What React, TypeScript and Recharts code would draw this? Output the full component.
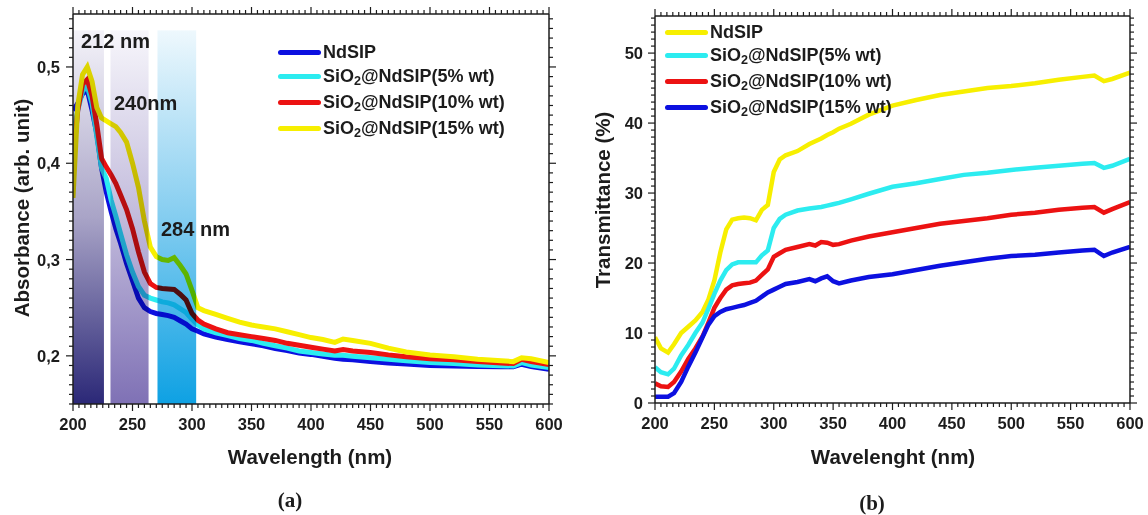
import React from "react";
import { LineChart, Line, XAxis, YAxis, ReferenceArea } from "recharts";

// ---- (a) absorbance ----
const absWavelength = [
  200, 204, 208, 212, 216, 220, 224, 228, 232, 236, 240, 245, 250, 255, 260, 265, 270, 275, 280, 285,
  290, 295, 300, 305, 310, 320, 330, 340, 350, 360, 370, 380, 390, 400, 410, 420, 427, 435, 450, 465,
  480, 500, 520, 540, 560, 570, 577, 585, 600,
];
const absNdSIP = [
  0.455, 0.462, 0.472, 0.476, 0.455, 0.431, 0.395, 0.37, 0.35, 0.332, 0.317, 0.296, 0.278, 0.26, 0.25,
  0.246, 0.244, 0.243, 0.2418, 0.24, 0.2365, 0.233, 0.228, 0.2255, 0.2228, 0.2195, 0.217, 0.2145, 0.2125,
  0.2105, 0.2075, 0.2055, 0.203, 0.2015, 0.1995, 0.1975, 0.1965, 0.196, 0.194, 0.1925, 0.1915, 0.19,
  0.1895, 0.189, 0.1887, 0.1886, 0.1913, 0.189, 0.186,
];
const absSi5 = [
  0.43, 0.455, 0.475, 0.48, 0.462, 0.428, 0.395, 0.384, 0.362, 0.345, 0.327, 0.305, 0.287, 0.272, 0.263,
  0.26, 0.258, 0.256, 0.255, 0.253, 0.249, 0.245, 0.238, 0.232, 0.228, 0.224, 0.221, 0.218, 0.216, 0.213,
  0.2105, 0.208, 0.205, 0.2035, 0.202, 0.2005, 0.2005, 0.1995, 0.198, 0.1965, 0.195, 0.193, 0.192, 0.1905,
  0.1898, 0.1895, 0.193, 0.1905, 0.188,
];
const absSi10 = [
  0.403, 0.455, 0.482, 0.487, 0.47, 0.44, 0.405, 0.396, 0.388, 0.379, 0.367, 0.352, 0.332, 0.308, 0.287,
  0.275, 0.271, 0.27, 0.2695, 0.269, 0.264, 0.258, 0.244, 0.237, 0.233, 0.228, 0.224, 0.222, 0.22, 0.218,
  0.216, 0.213, 0.211, 0.209, 0.207, 0.205, 0.2065, 0.205, 0.2035, 0.201, 0.199, 0.197, 0.196, 0.194,
  0.1925, 0.192, 0.1965, 0.194, 0.191,
];
const absSi15 = [
  0.364, 0.46, 0.492, 0.5, 0.485, 0.458, 0.447, 0.444, 0.441, 0.438, 0.432, 0.422, 0.4, 0.375, 0.34,
  0.313, 0.303, 0.3, 0.299, 0.302, 0.294, 0.285, 0.268, 0.25, 0.247, 0.243, 0.239, 0.235, 0.232, 0.23,
  0.228, 0.225, 0.222, 0.219, 0.217, 0.214, 0.2175, 0.216, 0.213, 0.208, 0.204, 0.201, 0.199, 0.1965,
  0.195, 0.194, 0.198, 0.197, 0.193,
];
const absBands = [
  { id: "band1", x1: 200, x2: 226 },
  { id: "band2", x1: 231.5, x2: 263.5 },
  { id: "band3", x1: 271, x2: 303.5 },
];

// ---- (b) transmittance ----
const trWavelength = [
  200, 205, 211, 216, 222, 228, 234, 240, 245, 250, 255, 260, 265, 270, 275, 280, 285, 290, 295, 300,
  305, 310, 320, 330, 335, 340, 345, 350, 355, 365, 380, 400, 420, 440, 460, 480, 500, 520, 540, 560,
  570, 578, 585, 600,
];
const trNdSIP = [
  9.4, 7.8, 7.2, 8.4, 10.0, 10.9, 11.8, 13.0, 14.8, 17.5, 21.5, 24.8, 26.2, 26.4, 26.5, 26.4, 26.1, 27.6,
  28.3, 33.0, 34.8, 35.4, 36.0, 37.0, 37.4, 37.8, 38.3, 38.7, 39.2, 39.9, 41.2, 42.5, 43.3, 44.0, 44.5,
  45.0, 45.3, 45.7, 46.2, 46.6, 46.8, 46.0, 46.3, 47.2,
];
const trSi5 = [
  5.1, 4.4, 4.1, 4.9, 6.8, 8.3, 10.0, 11.5, 13.5, 15.6, 17.5, 19.0, 19.8, 20.1, 20.1, 20.1, 20.1, 21.1,
  21.8, 25.0, 26.3, 26.9, 27.5, 27.8, 27.9, 28.0, 28.2, 28.4, 28.6, 29.1, 29.9, 30.9, 31.4, 32.0, 32.6,
  32.9, 33.3, 33.6, 33.9, 34.2, 34.3, 33.6, 33.9, 34.9,
];
const trSi10 = [
  2.8, 2.4, 2.3, 3.0, 4.5, 6.3, 7.8, 9.5, 11.5, 13.6, 15.0, 16.2, 16.8, 17.0, 17.1, 17.2, 17.5, 18.3,
  19.1, 20.9, 21.4, 21.9, 22.3, 22.7, 22.5, 23.0, 22.9, 22.6, 22.7, 23.2, 23.8, 24.4, 25.0, 25.6, 26.0,
  26.4, 26.9, 27.2, 27.6, 27.9, 28.0, 27.2, 27.7, 28.7,
];
const trSi15 = [
  0.9, 0.9, 0.9, 1.4, 3.0, 5.2, 7.2, 9.4, 11.2, 12.4, 13.0, 13.4, 13.6, 13.8, 14.0, 14.3, 14.6, 15.2,
  15.8, 16.2, 16.6, 17.0, 17.3, 17.7, 17.4, 17.8, 18.1, 17.4, 17.1, 17.5, 18.0, 18.4, 19.0, 19.6, 20.1,
  20.6, 21.0, 21.2, 21.5, 21.8, 21.9, 21.0, 21.5, 22.3,
];

const xTicks = Array.from({ length: 81 }, (_, i) => 200 + i * 5);
const absYTicks = Array.from({ length: 41 }, (_, i) => (15 + i) / 100);
const trYTicks = Array.from({ length: 56 }, (_, i) => i);

const absData = absWavelength.map((w, i) => ({
  w, nd: absNdSIP[i], s5: absSi5[i], s10: absSi10[i], s15: absSi15[i],
}));
const trData = trWavelength.map((w, i) => ({
  w, nd: trNdSIP[i], s5: trSi5[i], s10: trSi10[i], s15: trSi15[i],
}));

const BLUE = "#0c10e0";
const CYAN = "#2cecf0";
const RED = "#ec1212";
const YELLOW = "#f7ef00";
const INK = "#1c1c1c";
const SANS = "'Liberation Sans', Arial, sans-serif";
const SERIF = "'Liberation Serif', 'Times New Roman', serif";
const TICK_FONT = 16.5;

const xTick = (side: "bottom" | "top") => (p: any) => {
  const v = p.payload.value;
  const major = v % 50 === 0;
  const dir = side === "bottom" ? 1 : -1;
  return (
    <g>
      <line x1={p.x} x2={p.x} y1={p.y} y2={p.y + dir * (major ? 7 : 4)} stroke={INK} strokeWidth={1.2} />
      {side === "bottom" && major && (
        <text x={p.x} y={p.y + 26} textAnchor="middle" fontSize={TICK_FONT} fontWeight={700} fill={INK} fontFamily={SANS}>
          {v}
        </text>
      )}
    </g>
  );
};

const yTick =
  (side: "left" | "right", isMajor: (v: number) => boolean, fmt: (v: number) => string, gap: number) =>
  (p: any) => {
    const v = p.payload.value;
    const major = isMajor(v);
    const dir = side === "left" ? -1 : 1;
    return (
      <g>
        <line x1={p.x} x2={p.x + dir * (major ? 7 : 4)} y1={p.y} y2={p.y} stroke={INK} strokeWidth={1.2} />
        {side === "left" && major && (
          <text x={p.x - gap} y={p.y} textAnchor="end" dominantBaseline="central" fontSize={TICK_FONT} fontWeight={700} fill={INK} fontFamily={SANS}>
            {fmt(v)}
          </text>
        )}
      </g>
    );
  };

const absMajor = (v: number) => Math.round(v * 100) % 10 === 0;
const absFmt = (v: number) => v.toFixed(1).replace(".", ",");
const trMajor = (v: number) => v % 10 === 0;
const trFmt = (v: number) => String(v);

const axisLine = { stroke: INK, strokeWidth: 1.5 };

function Sio2({ pct }: { pct?: string }) {
  if (!pct) return <>NdSIP</>;
  return (
    <>
      SiO<sub style={{ fontSize: "0.7em", verticalAlign: "-0.25em", lineHeight: 0 }}>2</sub>@NdSIP({pct}% wt)
    </>
  );
}

function LegendBox({
  left, rows, items,
}: {
  left: number;
  rows: number[];
  items: { color: string; pct?: string }[];
}) {
  return (
    <>
      {items.map((it, i) => (
        <div key={i} style={{ position: "absolute", left, top: rows[i], transform: "translateY(-50%)", display: "flex", alignItems: "center" }}>
          <div style={{ width: 43, height: 5, borderRadius: 3, background: it.color }} />
          <div style={{ marginLeft: 2, fontFamily: SANS, fontWeight: 700, fontSize: 18, color: INK, whiteSpace: "nowrap", lineHeight: 1 }}>
            <Sio2 pct={it.pct} />
          </div>
        </div>
      ))}
    </>
  );
}

function Txt({ x, y, children, size = 20.5, rotate = false, serif = false, anchor = "center" }: any) {
  return (
    <div
      style={{
        position: "absolute",
        left: x,
        top: y,
        transform: `translate(${anchor === "center" ? "-50%" : "0"},-50%)${rotate ? " rotate(-90deg)" : ""}`,
        transformOrigin: anchor === "center" ? "center" : "left center",
        fontFamily: serif ? SERIF : SANS,
        fontWeight: 700,
        fontSize: size,
        color: INK,
        whiteSpace: "nowrap",
        lineHeight: 1,
      }}
    >
      {children}
    </div>
  );
}

export default function App() {
  return (
    <div style={{ position: "absolute", left: 0, top: 0, width: 1148, height: 515, background: "#fff", overflow: "hidden" }}>
      <div style={{ position: "absolute", left: 0, top: 0 }}>
        <LineChart width={575} height={515} data={absData} margin={{ top: 13, right: 25, bottom: 81, left: 13 }}>
          <defs>
            <linearGradient id="band1" x1="0" y1="0" x2="0" y2="1">
              <stop offset="0%" stopColor="#f4f3f9" />
              <stop offset="50%" stopColor="#a9a4c7" />
              <stop offset="100%" stopColor="#2b2877" />
            </linearGradient>
            <linearGradient id="band2" x1="0" y1="0" x2="0" y2="1">
              <stop offset="0%" stopColor="#f7f6fb" />
              <stop offset="50%" stopColor="#c2bbdc" />
              <stop offset="100%" stopColor="#7f71b5" />
            </linearGradient>
            <linearGradient id="band3" x1="0" y1="0" x2="0" y2="1">
              <stop offset="0%" stopColor="#eef8fd" />
              <stop offset="50%" stopColor="#84cdf0" />
              <stop offset="100%" stopColor="#0ea1e3" />
            </linearGradient>
          </defs>
          <XAxis dataKey="w" type="number" domain={[200, 600]} ticks={xTicks} interval={0} allowDataOverflow
            tickSize={0} tickMargin={0} tickLine={false} axisLine={axisLine} height={30} tick={xTick("bottom")} />
          <XAxis xAxisId="top" orientation="top" dataKey="w" type="number" domain={[200, 600]} ticks={xTicks} interval={0}
            allowDataOverflow tickSize={0} tickMargin={0} tickLine={false} axisLine={axisLine} height={1} tick={xTick("top")} />
          <YAxis type="number" domain={[0.15, 0.555]} ticks={absYTicks} interval={0} allowDataOverflow width={60}
            tickSize={0} tickMargin={0} tickLine={false} axisLine={axisLine} tick={yTick("left", absMajor, absFmt, 13)} />
          <YAxis yAxisId="right" orientation="right" type="number" domain={[0.15, 0.555]} ticks={absYTicks} interval={0}
            allowDataOverflow width={1} tickSize={0} tickMargin={0} tickLine={false} axisLine={axisLine}
            tick={yTick("right", absMajor, absFmt, 13)} />
          <Line dataKey="nd" stroke={BLUE} strokeWidth={5} dot={false} isAnimationActive={false} />
          <Line dataKey="s5" stroke={CYAN} strokeWidth={5} dot={false} isAnimationActive={false} />
          <Line dataKey="s10" stroke={RED} strokeWidth={5} dot={false} isAnimationActive={false} />
          <Line dataKey="s15" stroke={YELLOW} strokeWidth={5} dot={false} isAnimationActive={false} />
          {absBands.map((b) => (
            <ReferenceArea
              key={b.id}
              x1={b.x1}
              x2={b.x2}
              y1={0.15}
              y2={0.538}
              zIndex={450}
              shape={(p: any) => (
                <rect x={p.x} y={p.y} width={p.width} height={p.height} fill={`url(#${b.id})`} style={{ mixBlendMode: "multiply" }} />
              )}
            />
          ))}
        </LineChart>
      </div>

      <div style={{ position: "absolute", left: 575, top: 0 }}>
        <LineChart width={573} height={515} data={trData} margin={{ top: 15, right: 17, bottom: 82, left: 20 }}>
          <XAxis dataKey="w" type="number" domain={[200, 600]} ticks={xTicks} interval={0} allowDataOverflow
            tickSize={0} tickMargin={0} tickLine={false} axisLine={axisLine} height={30} tick={xTick("bottom")} />
          <XAxis xAxisId="top" orientation="top" dataKey="w" type="number" domain={[200, 600]} ticks={xTicks} interval={0}
            allowDataOverflow tickSize={0} tickMargin={0} tickLine={false} axisLine={axisLine} height={1} tick={xTick("top")} />
          <YAxis type="number" domain={[0, 55.3]} ticks={trYTicks} interval={0} allowDataOverflow width={60}
            tickSize={0} tickMargin={0} tickLine={false} axisLine={axisLine} tick={yTick("left", trMajor, trFmt, 12)} />
          <YAxis yAxisId="right" orientation="right" type="number" domain={[0, 55.3]} ticks={trYTicks} interval={0}
            allowDataOverflow width={1} tickSize={0} tickMargin={0} tickLine={false} axisLine={axisLine}
            tick={yTick("right", trMajor, trFmt, 12)} />
          <Line dataKey="nd" stroke={YELLOW} strokeWidth={4.5} dot={false} isAnimationActive={false} />
          <Line dataKey="s5" stroke={CYAN} strokeWidth={4.5} dot={false} isAnimationActive={false} />
          <Line dataKey="s10" stroke={RED} strokeWidth={4.5} dot={false} isAnimationActive={false} />
          <Line dataKey="s15" stroke={BLUE} strokeWidth={4.5} dot={false} isAnimationActive={false} />
        </LineChart>
      </div>

      <LegendBox
        left={278}
        rows={[52, 76, 102, 128]}
        items={[{ color: BLUE }, { color: CYAN, pct: "5" }, { color: RED, pct: "10" }, { color: YELLOW, pct: "15" }]}
      />
      <LegendBox
        left={665}
        rows={[32, 55, 81, 107]}
        items={[{ color: YELLOW }, { color: CYAN, pct: "5" }, { color: RED, pct: "10" }, { color: BLUE, pct: "15" }]}
      />

      <Txt x={81} y={41} size={20} anchor="left">212 nm</Txt>
      <Txt x={114} y={103} size={20} anchor="left">240nm</Txt>
      <Txt x={161} y={229} size={20} anchor="left">284 nm</Txt>

      <Txt x={22} y={208} rotate>Absorbance (arb. unit)</Txt>
      <Txt x={603} y={200} rotate>Transmittance (%)</Txt>
      <Txt x={310} y={457}>Wavelength (nm)</Txt>
      <Txt x={893} y={457}>Wavelenght (nm)</Txt>
      <Txt x={290} y={500} size={21} serif>(a)</Txt>
      <Txt x={872} y={503} size={21} serif>(b)</Txt>
    </div>
  );
}
